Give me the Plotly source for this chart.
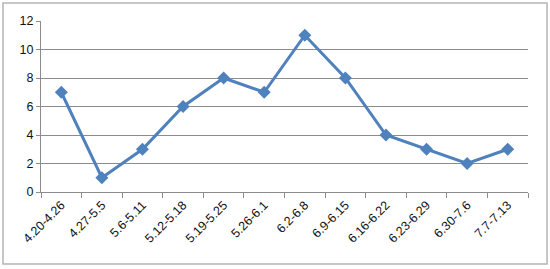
import plotly.graph_objects as go

categories = ["4.20-4.26", "4.27-5.5", "5.6-5.11", "5.12-5.18", "5.19-5.25", "5.26-6.1",
              "6.2-6.8", "6.9-6.15", "6.16-6.22", "6.23-6.29", "6.30-7.6", "7.7-7.13"]
values = [7, 1, 3, 6, 8, 7, 11, 8, 4, 3, 2, 3]
y_ticks = [0, 2, 4, 6, 8, 10, 12]

W, H = 550, 269
ml, mr, mt, mb = 41, 22, 21, 77
pw, ph = W - ml - mr, H - mt - mb

def px(x):
    return (x - ml) / pw

def py(y):
    return (H - mb - y) / ph

fig = go.Figure()
fig.add_trace(go.Scatter(
    x=categories, y=values, mode="lines+markers",
    line=dict(color="#4F81BD", width=3),
    marker=dict(symbol="diamond", size=10, color="#4F81BD"),
))

fig.update_layout(
    width=W, height=H,
    margin=dict(l=ml, r=mr, t=mt, b=mb),
    paper_bgcolor="white", plot_bgcolor="white",
    showlegend=False,
    font=dict(family="Liberation Sans, Arial, sans-serif", color="#111111"),
    xaxis=dict(
        type="category", tickson="boundaries", ticks="outside", ticklen=5,
        tickcolor="#8c8c8c", showline=True, linecolor="#8c8c8c", linewidth=1,
        showgrid=False, tickangle=-45, tickfont=dict(size=12.5),
        range=[-0.5, len(categories) - 0.5],
    ),
    yaxis=dict(
        range=[0, 12], tickvals=y_ticks, ticks="outside", ticklen=4,
        tickcolor="#8c8c8c", showline=True, linecolor="#8c8c8c", linewidth=1,
        showgrid=True, gridcolor="#8c8c8c", gridwidth=1, zeroline=False,
        tickfont=dict(size=12.5),
    ),
    shapes=[dict(
        type="rect", xref="paper", yref="paper",
        x0=px(3), x1=px(547), y0=py(264), y1=py(3),
        line=dict(color="#b5b5b5", width=1.5), fillcolor="rgba(0,0,0,0)",
        layer="below",
    )],
)

fig.write_html("out.html")
